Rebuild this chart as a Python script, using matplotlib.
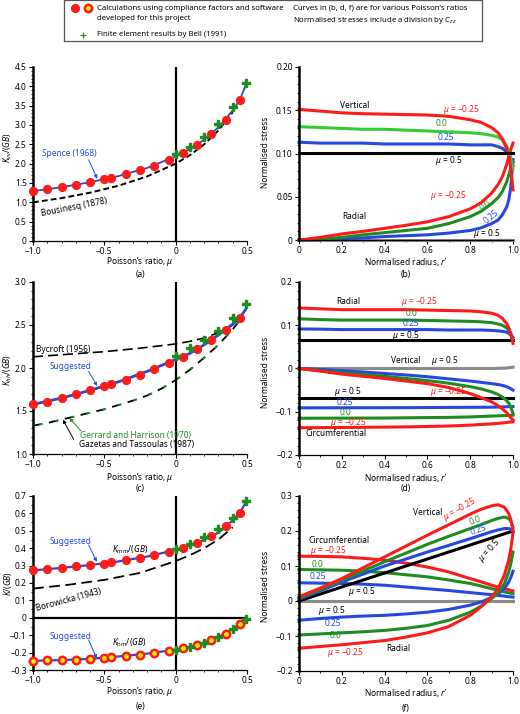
import matplotlib
matplotlib.use('Agg')
import matplotlib.pyplot as plt
from matplotlib.ticker import MultipleLocator, FuncFormatter

plt.rcParams['font.family'] = ['Noto Sans', 'DejaVu Sans']
plt.rcParams['mathtext.fontset'] = 'custom'
plt.rcParams['mathtext.rm'] = 'Noto Sans'
plt.rcParams['mathtext.it'] = 'Noto Sans:italic'
plt.rcParams['font.size'] = 6.0

W, H = 520, 714
FS = 6.0
RED = '#ff1a1a'
GREEN = '#1e8c1e'
LGREEN = '#33cc33'
BLUE = '#2448e0'
GRAY = '#8a8a8a'

# ---- panel (a), (c), (e): compliance factors vs Poisson's ratio
mu_calc = [-1.0, -0.9, -0.8, -0.7, -0.6, -0.5, -0.45, -0.35, -0.25, -0.15, -0.05,
           0.05, 0.15, 0.25, 0.35, 0.45]
mu_fe = [0.0, 0.1, 0.2, 0.3, 0.4, 0.49]
mu_line = [-1.0, -0.8, -0.6, -0.4, -0.2, 0.0, 0.1, 0.2, 0.3, 0.4, 0.45, 0.49]

kvv_calc = [1.29, 1.35, 1.39, 1.45, 1.52, 1.60, 1.64, 1.73, 1.83, 1.95, 2.10,
            2.28, 2.49, 2.77, 3.12, 3.65]
kvv_fe = [2.25, 2.44, 2.68, 3.02, 3.46, 4.08]
kvv_spence = [1.29, 1.39, 1.52, 1.68, 1.89, 2.19, 2.38, 2.62, 2.94, 3.38, 3.65, 4.02]
bous_mu = [-1.0, -0.8, -0.6, -0.4, -0.2, 0.0, 0.1, 0.2, 0.3, 0.4]
bous_kvv = [1.0, 1.11, 1.25, 1.43, 1.67, 2.0, 2.22, 2.5, 2.86, 3.33]

khh_calc = [1.577, 1.61, 1.65, 1.70, 1.74, 1.785, 1.81, 1.865, 1.92, 1.99, 2.06,
            2.13, 2.22, 2.33, 2.44, 2.585]
khh_fe = [2.14, 2.23, 2.32, 2.43, 2.58, 2.74]
khh_sugg = [1.577, 1.65, 1.74, 1.84, 1.96, 2.10, 2.17, 2.27, 2.385, 2.51, 2.585, 2.68]
byc_mu = [-1.0, -0.75, -0.5, -0.25, 0.0, 0.1, 0.2, 0.3, 0.4, 0.47]
byc_khh = [2.13, 2.16, 2.19, 2.23, 2.28, 2.31, 2.35, 2.41, 2.50, 2.62]
gaz_mu = [-1.0, -0.9, -0.8, -0.7, -0.6, -0.5, -0.4, -0.3, -0.2, -0.1, 0.0, 0.1,
          0.2, 0.3, 0.4, 0.47]
gaz_khh = [1.33, 1.36, 1.40, 1.44, 1.48, 1.52, 1.57, 1.62, 1.68, 1.76, 1.86, 1.98,
           2.12, 2.27, 2.45, 2.60]

kmm_calc = [0.272, 0.28, 0.287, 0.295, 0.303, 0.312, 0.318, 0.331, 0.345, 0.36,
            0.379, 0.402, 0.431, 0.469, 0.527, 0.605]
kmm_fe = [0.398, 0.427, 0.462, 0.508, 0.575, 0.672]
kmm_sugg = [0.272, 0.287, 0.303, 0.324, 0.352, 0.39, 0.416, 0.448, 0.49, 0.56, 0.605, 0.66]
khm_calc = [-0.247, -0.245, -0.243, -0.24, -0.236, -0.23, -0.226, -0.218, -0.211,
            -0.201, -0.19, -0.176, -0.157, -0.128, -0.092, -0.038]
khm_fe = [-0.186, -0.167, -0.144, -0.113, -0.067, -0.006]
khm_sugg = [-0.247, -0.243, -0.236, -0.222, -0.206, -0.183, -0.167, -0.143, -0.111,
            -0.065, -0.038, -0.005]
bor_mu = [-1.0, -0.75, -0.5, -0.25, 0.0, 0.1, 0.2, 0.3, 0.4]
bor_kmm = [0.168, 0.19, 0.218, 0.258, 0.326, 0.36, 0.40, 0.45, 0.52]

# ---- panels (b), (d), (f): normalised stresses vs normalised radius
r_b = [0, 0.1, 0.2, 0.3, 0.4, 0.5, 0.6, 0.7, 0.8, 0.85, 0.9, 0.93, 0.95, 0.97, 0.98, 0.99, 1.0]
vert_m025_b = [0.151, 0.149, 0.147, 0.146, 0.1455, 0.145, 0.1445, 0.143, 0.139, 0.136,
               0.130, 0.124, 0.117, 0.106, 0.098, 0.082, 0.058]
vert_0_b = [0.131, 0.130, 0.129, 0.128, 0.128, 0.127, 0.126, 0.125, 0.124, 0.123, 0.121,
            0.119, 0.116, 0.109, 0.102, 0.094, 0.082]
vert_025_b = [0.113, 0.112, 0.112, 0.112, 0.111, 0.111, 0.111, 0.111, 0.110, 0.110, 0.110,
              0.108, 0.106, 0.102, 0.099, 0.094, 0.086]
rad_m025_b = [0.0, 0.003, 0.007, 0.010, 0.0135, 0.017, 0.021, 0.027, 0.036, 0.043, 0.054,
              0.064, 0.073, 0.087, 0.096, 0.105, 0.112]
rad_0_b = [0.0, 0.001, 0.003, 0.006, 0.0085, 0.011, 0.0135, 0.019, 0.027, 0.033, 0.042,
           0.049, 0.056, 0.067, 0.075, 0.083, 0.09]
rad_025_b = [0.0, 0.0005, 0.0015, 0.0025, 0.004, 0.005, 0.006, 0.008, 0.011, 0.014, 0.019,
             0.023, 0.029, 0.038, 0.046, 0.062, 0.093]
flat_r = [0.0, 1.0]
vert_05_b = [0.101, 0.101]
rad_05_b = [0.0, 0.0]

r_d = r_b
rad_m025_d = [0.140, 0.138, 0.136, 0.136, 0.136, 0.136, 0.135, 0.134, 0.133, 0.131, 0.128,
              0.123, 0.116, 0.104, 0.094, 0.080, 0.058]
rad_0_d = [0.115, 0.113, 0.112, 0.112, 0.112, 0.112, 0.111, 0.110, 0.109, 0.108, 0.106,
           0.103, 0.100, 0.094, 0.089, 0.080, 0.065]
rad_025_d = [0.0915, 0.091, 0.090, 0.090, 0.090, 0.090, 0.090, 0.089, 0.089, 0.089, 0.088,
             0.087, 0.086, 0.084, 0.081, 0.078, 0.072]
rad_05_d = [0.067, 0.067]
vert_05_r = [0.0, 0.9, 0.97, 1.0]
vert_05_d = [0.0, 0.0, 0.001, 0.003]
vert_025_d = [0, -0.002, -0.005, -0.008, -0.0115, -0.015, -0.019, -0.024, -0.029, -0.032,
              -0.035, -0.037, -0.039, -0.042, -0.044, -0.047, -0.05]
vert_0_d = [0, -0.005, -0.010, -0.014, -0.018, -0.023, -0.028, -0.034, -0.042, -0.047,
            -0.054, -0.060, -0.066, -0.074, -0.080, -0.090, -0.104]
vert_m025_d = [0, -0.006, -0.013, -0.018, -0.023, -0.029, -0.035, -0.044, -0.058, -0.067,
               -0.077, -0.086, -0.093, -0.102, -0.108, -0.114, -0.119]
circ_05_d = [-0.068, -0.068]
circ_025_r = [0.0, 0.5, 0.9, 1.0]
circ_025_d = [-0.091, -0.0905, -0.0895, -0.088]
circ_0_r = [0.0, 0.4, 0.7, 0.8, 0.9, 0.95, 1.0]
circ_0_d = [-0.115, -0.1145, -0.113, -0.112, -0.110, -0.109, -0.108]
circ_m025_r = [0.0, 0.3, 0.5, 0.7, 0.8, 0.9, 0.95, 1.0]
circ_m025_d = [-0.137, -0.136, -0.135, -0.133, -0.131, -0.128, -0.126, -0.123]

r_f = [0, 0.1, 0.2, 0.3, 0.4, 0.5, 0.6, 0.7, 0.8, 0.85, 0.9, 0.93, 0.96, 0.98, 0.99, 1.0]
vert_m025_f = [0.012, 0.037, 0.064, 0.095, 0.126, 0.157, 0.188, 0.218, 0.248, 0.262, 0.272,
               0.275, 0.268, 0.250, 0.232, 0.200]
vert_0_f = [0.008, 0.033, 0.059, 0.086, 0.112, 0.137, 0.162, 0.185, 0.207, 0.218, 0.230,
            0.236, 0.240, 0.236, 0.228, 0.210]
vert_025_f = [0.005, 0.029, 0.054, 0.077, 0.100, 0.120, 0.140, 0.159, 0.178, 0.188, 0.198,
              0.203, 0.207, 0.207, 0.204, 0.198]
vert_05_f = [0.0, 0.2]
rad_025_f = [-0.055, -0.050, -0.046, -0.043, -0.041, -0.037, -0.032, -0.024, -0.012, -0.003,
             0.010, 0.020, 0.036, 0.054, 0.068, 0.085]
rad_0_f = [-0.097, -0.094, -0.091, -0.088, -0.084, -0.078, -0.070, -0.055, -0.032, -0.015,
           0.007, 0.023, 0.050, 0.083, 0.108, 0.14]
rad_m025_f = [-0.135, -0.130, -0.125, -0.119, -0.113, -0.103, -0.091, -0.073, -0.041, -0.017,
              0.011, 0.035, 0.075, 0.117, 0.150, 0.195]
circ_m025_f = [0.128, 0.1275, 0.126, 0.122, 0.117, 0.108, 0.097, 0.083, 0.064, 0.055, 0.045,
               0.040, 0.035, 0.032, 0.030, 0.029]
circ_0_f = [0.090, 0.089, 0.088, 0.085, 0.081, 0.075, 0.069, 0.060, 0.050, 0.043, 0.035,
            0.031, 0.026, 0.023, 0.022, 0.021]
circ_025_f = [0.052, 0.051, 0.050, 0.048, 0.045, 0.040, 0.035, 0.030, 0.024, 0.021, 0.018,
              0.016, 0.014, 0.012, 0.012, 0.011]
zero_f = [0.0, 0.0]

fig = plt.figure(figsize=(W / 100, H / 100), dpi=100)


def px_axes(l, t, r, b):
    return fig.add_axes([l / W, 1 - b / H, (r - l) / W, (b - t) / H])


def fmt(dec):
    return FuncFormatter(lambda v, p: '0' if abs(v) < 1e-9
                         else f'{v:.{dec}f}'.replace('-', '\u2212'))


def style(ax, xlim, ylim, xmaj, xmin, ymaj, ymin, xdec, ydec):
    ax.set_xlim(*xlim)
    ax.set_ylim(*ylim)
    for s in ('top', 'right'):
        ax.spines[s].set_visible(False)
    ax.spines['left'].set_linewidth(1.8)
    ax.spines['bottom'].set_linewidth(0.9)
    ax.xaxis.set_major_locator(MultipleLocator(xmaj))
    ax.xaxis.set_minor_locator(MultipleLocator(xmin))
    ax.yaxis.set_major_locator(MultipleLocator(ymaj))
    ax.yaxis.set_minor_locator(MultipleLocator(ymin))
    ax.xaxis.set_major_formatter(fmt(xdec))
    ax.yaxis.set_major_formatter(fmt(ydec))
    ax.tick_params(which='major', direction='out', length=3, width=0.8, labelsize=6.0, pad=1.5)
    ax.tick_params(which='minor', direction='out', length=1.6, width=0.6)
    ax.patch.set_alpha(0)


def fig_text(px, py, s, **kw):
    fig.text(px / W, 1 - py / H, s, ha='center', va='center', fontsize=FS, **kw)


def arrow(ax, xy, xytext, color):
    ax.annotate('', xy=xy, xytext=xytext,
                arrowprops=dict(arrowstyle='-|>', color=color, lw=0.7, mutation_scale=5,
                                shrinkA=0, shrinkB=0))


def label(ax, x, y, s, color='k', ha='center', rot=0):
    ax.text(x, y, s, color=color, ha=ha, va='center', rotation=rot, fontsize=FS)


def points(ax, y_calc, y_fe, hollow=False):
    if hollow:
        ax.plot(mu_calc, y_calc, 'o', ms=5.3, mfc='#ffee00', mec=RED, mew=1.8,
                zorder=5, clip_on=False)
    else:
        ax.plot(mu_calc, y_calc, 'o', ms=5.6, color=RED, zorder=5, clip_on=False)
    ax.plot(mu_fe, y_fe, 'P', ms=6.3, color=GREEN, mec=GREEN, zorder=6, clip_on=False)


MU_M025 = '$\\mu$ = \u22120.25'
MU_05 = '$\\mu$ = 0.5'

# ---------------- legend box
leg = px_axes(64, 0, 482, 41)
leg.set_xlim(64, 482)
leg.set_ylim(41, 0)
leg.set_xticks([])
leg.set_yticks([])
for s in leg.spines.values():
    s.set_color('#555555')
    s.set_linewidth(0.9)
leg.plot([75], [8], 'o', ms=5.6, color=RED)
leg.plot([88], [8], 'o', ms=5.3, mfc='#ffee00', mec=RED, mew=1.8)
leg.plot([83], [35], '+', ms=4, color=GREEN, mew=0.9)
LFS = 5.6
leg.text(97, 8, 'Calculations using compliance factors and software', va='center', fontsize=LFS)
leg.text(97, 19, 'developed for this project', va='center', fontsize=LFS)
leg.text(97, 35, 'Finite element results by Bell (1991)', va='center', fontsize=LFS)
leg.text(293, 8, 'Curves in (b, d, f) are for various Poisson\u2019s ratios', va='center',
         fontsize=LFS)
leg.text(293, 20, r'Normalised stresses include a division by $\mathrm{C}_{zz}$', va='center',
         fontsize=LFS)

# ---------------- (a)
ax = px_axes(33, 67, 247, 241)
style(ax, (-1.0, 0.5), (0, 4.5), 0.5, 0.1, 0.5, 0.1, 1, 1)
ax.axvline(0, color='k', lw=1.6)
ax.plot(bous_mu, bous_kvv, color='k', lw=1.4, dashes=(3, 1.6))
ax.plot(mu_line, kvv_spence, color=BLUE, lw=1.3)
points(ax, kvv_calc, kvv_fe)
label(ax, -0.94, 2.27, 'Spence (1968)', BLUE, ha='left')
arrow(ax, (-0.55, 1.61), (-0.61, 2.10), BLUE)
label(ax, -0.71, 0.87, 'Bousinesq (1878)', rot=11)

# ---------------- (c)
ax = px_axes(33, 282, 247, 454)
style(ax, (-1.0, 0.5), (1.0, 3.0), 0.5, 0.1, 0.5, 0.1, 1, 1)
ax.axvline(0, color='k', lw=1.6)
ax.plot(byc_mu, byc_khh, color='k', lw=1.2, dashes=(6, 3))
ax.plot(gaz_mu, gaz_khh, color='k', lw=1.3, dashes=(5, 4))
ax.plot(gaz_mu, gaz_khh, color=GREEN, lw=1.3, linestyle=(5.5, (2, 7)))
ax.plot(mu_line, khh_sugg, color=BLUE, lw=2.0)
points(ax, khh_calc, khh_fe)
label(ax, -0.98, 2.22, 'Bycroft (1956)', ha='left')
label(ax, -0.885, 2.02, 'Suggested', BLUE, ha='left')
arrow(ax, (-0.55, 1.79), (-0.61, 1.96), BLUE)
label(ax, -0.67, 1.22, 'Gerrard and Harrison (1970)', GREEN, ha='left')
label(ax, -0.675, 1.115, 'Gazetas and Tassoulas (1987)', ha='left')
arrow(ax, (-0.745, 1.42), (-0.665, 1.27), GREEN)
arrow(ax, (-0.79, 1.40), (-0.715, 1.17), 'k')

# ---------------- (e)
ax = px_axes(33, 496, 247, 670)
style(ax, (-1.0, 0.5), (-0.3, 0.7), 0.5, 0.1, 0.1, 0.05, 1, 1)
ax.axvline(0, color='k', lw=1.6)
ax.axhline(0, color='k', lw=1.6)
ax.plot(bor_mu, bor_kmm, color='k', lw=1.3, dashes=(6, 3))
ax.plot(mu_line, kmm_sugg, color=BLUE, lw=1.6)
ax.plot(mu_line, khm_sugg, color=BLUE, lw=1.6)
points(ax, kmm_calc, kmm_fe)
points(ax, khm_calc, khm_fe, hollow=True)
label(ax, -0.885, 0.44, 'Suggested', BLUE, ha='left')
arrow(ax, (-0.553, 0.322), (-0.61, 0.418), BLUE)
label(ax, -0.447, 0.393, r'$K_{\mathrm{mm}}/(GB)$', ha='left')
label(ax, -0.75, 0.105, 'Borowicka (1943)', rot=15)
label(ax, -0.885, -0.105, 'Suggested', BLUE, ha='left')
arrow(ax, (-0.553, -0.234), (-0.61, -0.128), BLUE)
label(ax, -0.447, -0.144, r'$K_{\mathrm{hm}}/(GB)$', ha='left')

LW = 2.2
# ---------------- (b)
ax = px_axes(299, 67, 513, 240)
style(ax, (0, 1.0), (0, 0.2), 0.2, 0.1, 0.05, 0.01, 1, 2)
ax.plot(flat_r, rad_05_b, color=GRAY, lw=LW, clip_on=False)
ax.plot(r_b, rad_025_b, color=BLUE, lw=LW, clip_on=False)
ax.plot(r_b, rad_0_b, color=GREEN, lw=LW, clip_on=False)
ax.plot(r_b, rad_m025_b, color=RED, lw=LW, clip_on=False)
ax.plot(r_b, vert_025_b, color=BLUE, lw=LW, clip_on=False)
ax.plot(r_b, vert_0_b, color=LGREEN, lw=LW, clip_on=False)
ax.plot(r_b, vert_m025_b, color=RED, lw=LW, clip_on=False)
ax.plot(flat_r, vert_05_b, color='k', lw=LW, clip_on=False)
label(ax, 0.26, 0.155, 'Vertical')
label(ax, 0.76, 0.151, MU_M025, RED)
label(ax, 0.666, 0.135, '0.0', GREEN)
label(ax, 0.684, 0.118, '0.25', BLUE)
label(ax, 0.70, 0.092, MU_05)
label(ax, 0.26, 0.027, 'Radial')
label(ax, 0.70, 0.052, MU_M025, RED)
label(ax, 0.87, 0.040, '0.0', GREEN, rot=40)
label(ax, 0.90, 0.027, '0.25', BLUE, rot=40)
label(ax, 0.875, 0.008, MU_05)

# ---------------- (d)
ax = px_axes(299, 282, 513, 455)
style(ax, (0, 1.0), (-0.2, 0.2), 0.2, 0.1, 0.1, 0.02, 1, 1)
ax.plot(circ_m025_r, circ_m025_d, color=RED, lw=LW, clip_on=False)
ax.plot(circ_0_r, circ_0_d, color=GREEN, lw=LW, clip_on=False)
ax.plot(circ_025_r, circ_025_d, color=BLUE, lw=LW, clip_on=False)
ax.plot(flat_r, circ_05_d, color='k', lw=LW, clip_on=False)
ax.plot(vert_05_r, vert_05_d, color=GRAY, lw=LW, clip_on=False)
ax.plot(r_d, vert_025_d, color=BLUE, lw=LW, clip_on=False)
ax.plot(r_d, vert_0_d, color=GREEN, lw=LW, clip_on=False)
ax.plot(r_d, vert_m025_d, color=RED, lw=LW, clip_on=False)
ax.plot(flat_r, rad_05_d, color='k', lw=LW, clip_on=False)
ax.plot(r_d, rad_025_d, color=BLUE, lw=LW, clip_on=False)
ax.plot(r_d, rad_0_d, color=GREEN, lw=LW, clip_on=False)
ax.plot(r_d, rad_m025_d, color=RED, lw=LW, clip_on=False)
label(ax, 0.23, 0.154, 'Radial')
label(ax, 0.565, 0.154, MU_M025, RED)
label(ax, 0.525, 0.127, '0.0', GREEN)
label(ax, 0.525, 0.104, '0.25', BLUE)
label(ax, 0.50, 0.077, MU_05)
label(ax, 0.50, 0.018, 'Vertical')
label(ax, 0.68, 0.018, MU_05)
label(ax, 0.70, -0.054, MU_M025, RED)
label(ax, 0.23, -0.054, MU_05)
label(ax, 0.215, -0.079, '0.25', BLUE)
label(ax, 0.215, -0.101, '0.0', GREEN)
label(ax, 0.23, -0.125, MU_M025, RED)
label(ax, 0.03, -0.150, 'Circumferential', ha='left')

# ---------------- (f)
ax = px_axes(299, 496, 513, 671)
style(ax, (0, 1.0), (-0.2, 0.3), 0.2, 0.1, 0.1, 0.02, 1, 1)
ax.plot(flat_r, zero_f, color=GRAY, lw=LW, clip_on=False)
ax.plot(r_f, circ_025_f, color=BLUE, lw=LW, clip_on=False)
ax.plot(r_f, circ_0_f, color=GREEN, lw=LW, clip_on=False)
ax.plot(r_f, circ_m025_f, color=RED, lw=LW, clip_on=False)
ax.plot(r_f, rad_025_f, color=BLUE, lw=LW, clip_on=False)
ax.plot(r_f, rad_0_f, color=GREEN, lw=LW, clip_on=False)
ax.plot(r_f, rad_m025_f, color=RED, lw=LW, clip_on=False)
ax.plot(flat_r, vert_05_f, color='k', lw=LW, clip_on=False)
ax.plot(r_f, vert_025_f, color=BLUE, lw=LW, clip_on=False)
ax.plot(r_f, vert_0_f, color=GREEN, lw=LW, clip_on=False)
ax.plot(r_f, vert_m025_f, color=RED, lw=LW, clip_on=False)
label(ax, 0.6, 0.252, 'Vertical')
label(ax, 0.75, 0.262, MU_M025, RED, rot=30)
label(ax, 0.826, 0.231, '0.0', GREEN, rot=20)
label(ax, 0.837, 0.203, '0.25', BLUE, rot=20)
label(ax, 0.89, 0.145, MU_05, rot=48)
label(ax, 0.044, 0.172, 'Circumferential', ha='left')
label(ax, 0.05, 0.143, MU_M025, RED, ha='left')
label(ax, 0.06, 0.105, '0.0', GREEN, ha='left')
label(ax, 0.05, 0.071, '0.25', BLUE, ha='left')
label(ax, 0.23, 0.028, MU_05, ha='left')
label(ax, 0.09, -0.027, MU_05, ha='left')
label(ax, 0.12, -0.065, '0.25', BLUE, ha='left')
label(ax, 0.145, -0.098, '0.0', GREEN, ha='left')
label(ax, 0.13, -0.146, MU_M025, RED, ha='left')
label(ax, 0.41, -0.135, 'Radial', ha='left')

# ---------------- axis titles and captions
for yl, yc, cap in ((262, 274, '(a)'), (478, 489, '(c)'), (692, 707, '(e)')):
    fig_text(140, yl, 'Poisson\u2019s ratio, $\\mu$')
    fig_text(140, yc, cap)
for yl, yc, cap, yt in ((262, 274, '(b)', 152), (478, 489, '(d)', 372), (693, 708, '(f)', 586)):
    fig_text(406, yl, 'Normalised radius, $r\u2032$')
    fig_text(406, yc, cap)
    fig_text(266, yt, 'Normalised stress', rotation=90)
fig_text(8, 148, r'$K_{vv}/(GB)$', rotation=90)
fig_text(8, 370, r'$K_{hh}/(GB)$', rotation=90)
fig_text(8, 583, r'$K/(GB)$', rotation=90)

fig.savefig('out.png', dpi=100)
